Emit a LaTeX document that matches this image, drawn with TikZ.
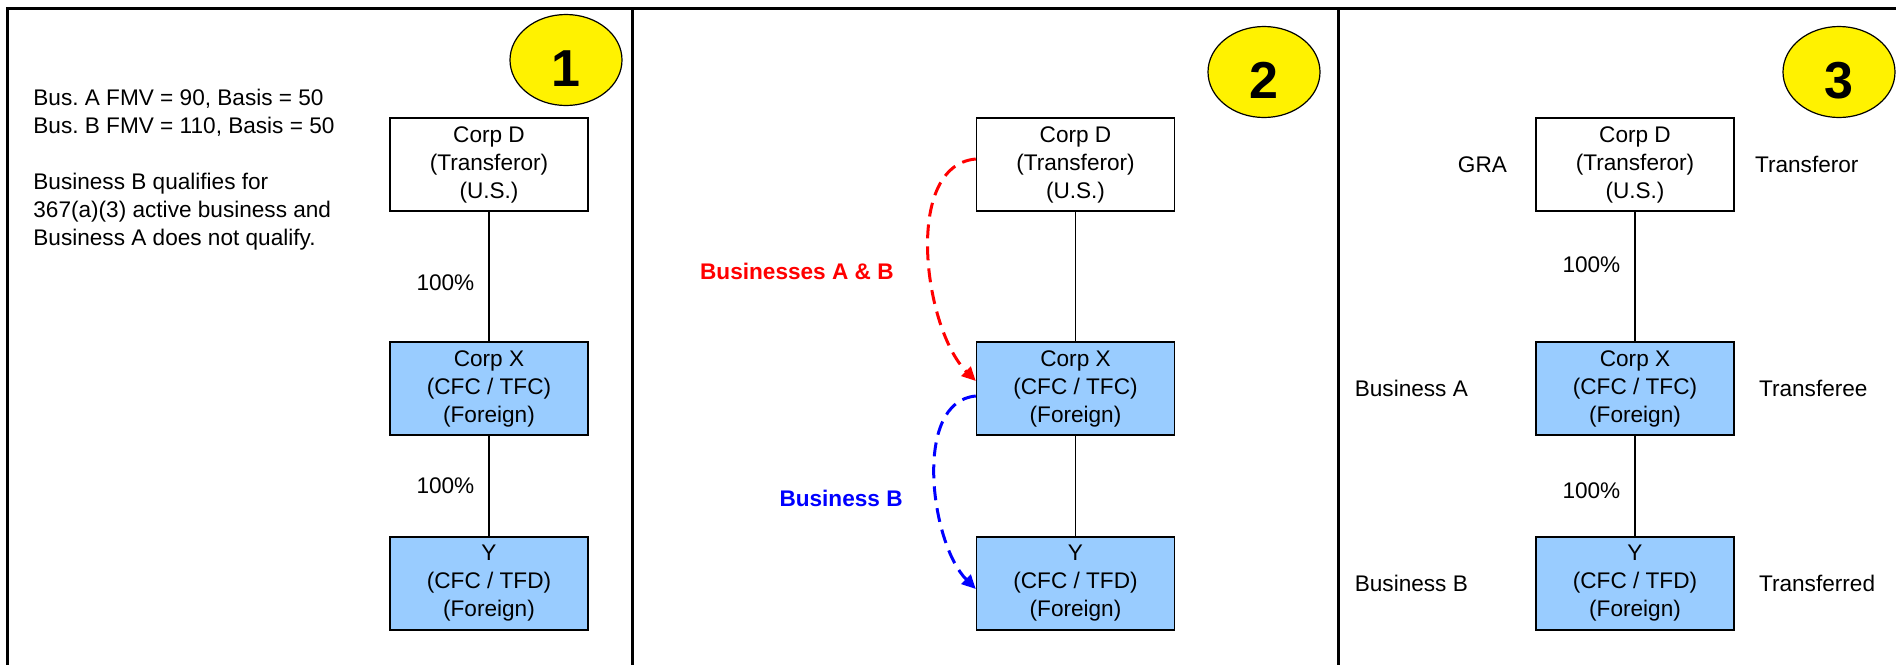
\documentclass[tikz,border=0pt]{standalone}
\usepackage{fontspec}
\setmainfont{Liberation Sans}
\usetikzlibrary{shapes.geometric}
\usetikzlibrary{arrows.meta}
\usetikzlibrary{positioning}

\definecolor{boxblue}{HTML}{99CCFF}
\newcommand\diagfont{\fontsize{11.3}{14}\selectfont}
\frenchspacing

\begin{document}
\begin{tikzpicture}[x=0.5pt,y=-0.5pt,font=\diagfont,
  entity/.style={draw, line width=0.7pt, minimum width=99pt, minimum height=46.5pt, align=center, inner sep=0pt},
  foreign/.style={entity, fill=boxblue},
  stepno/.style={ellipse, draw, line width=0.6pt, fill=yellow, minimum width=56pt, minimum height=45.5pt, inner sep=0pt,
    font=\fontsize{26}{30}\selectfont\bfseries, text height=26.6pt, text depth=0pt},
  own/.style={line width=0.7pt},
  pct/.style={left=7pt, inner sep=0pt},
  side/.style={inner sep=0pt},
  move/.style={line width=1.5pt, dash pattern=on 7pt off 4pt, arrows={-Triangle[length=7pt,width=6.5pt]}},
  movelbl/.style={anchor=east, inner sep=0pt, font=\diagfont\bfseries}]
  \useasboundingbox (0,0) rectangle (1896,665);
  \draw[line width=1.5pt] (1896,8) -- (7,8) -- (7,665);
  \draw[line width=1.5pt] (632,8) -- (632,665);
  \draw[line width=1.5pt] (1338,8) -- (1338,665);

  \node[stepno] (s1) at (566,60) {1};
  \node[stepno] (s2) at (1264,72) {2};
  \node[stepno] (s3) at (1839,72) {3};

  \node[anchor=north west, align=left, inner sep=0pt] (facts) at (33,89)
    {Bus. A FMV = 90, Basis = 50\\Bus. B FMV = 110, Basis = 50\\[14pt]Business B qualifies for\\367(a)(3) active business and\\Business A does not qualify.};

  \node[entity] (d1) at (489,164.5) {Corp D\\(Transferor)\\(U.S.)};
  \node[foreign] (x1) at (489,388.5) {Corp X\\(CFC / TFC)\\(Foreign)};
  \node[foreign] (y1) at (489,583.5) {Y\\(CFC / TFD)\\(Foreign)};
  \draw[own] (d1) -- node[pct, pos=0.55] {100\%} (x1);
  \draw[own] (x1) -- node[pct, pos=0.5] {100\%} (y1);

  \node[entity] (d2) at (1075.5,164.5) {Corp D\\(Transferor)\\(U.S.)};
  \node[foreign] (x2) at (1075.5,388.5) {Corp X\\(CFC / TFC)\\(Foreign)};
  \node[foreign] (y2) at (1075.5,583.5) {Y\\(CFC / TFD)\\(Foreign)};
  \draw[own] (d2) -- (x2);
  \draw[own] (x2) -- (y2);
  \draw[move, red] ([yshift=2.75pt]d2.west) to[out=185, in=135, looseness=0.85] ([yshift=3.75pt]x2.west);
  \draw[move, blue] ([yshift=-3.75pt]x2.west) to[out=185, in=135, looseness=0.85] ([yshift=-2.75pt]y2.west);
  \node[movelbl, red] (ab) at (894,271) {Businesses A \& B};
  \node[movelbl, blue] (b) at (903,498) {Business B};

  \node[entity] (d3) at (1635,164.5) {Corp D\\(Transferor)\\(U.S.)};
  \node[foreign] (x3) at (1635,388.5) {Corp X\\(CFC / TFC)\\(Foreign)};
  \node[foreign] (y3) at (1635,583.5) {Y\\(CFC / TFD)\\(Foreign)};
  \draw[own] (d3) -- node[pct, pos=0.41] {100\%} (x3);
  \draw[own] (x3) -- node[pct, pos=0.55] {100\%} (y3);
  \node[side, left=14pt of d3] (gra) {GRA};
  \node[side, left=33.5pt of x3] (busa) {Business A};
  \node[side, left=33.5pt of y3] (busb) {Business B};
  \node[side, right=10pt of d3] (tor) {Transferor};
  \node[side, right=12pt of x3] (tee) {Transferee};
  \node[side, right=12pt of y3] (ted) {Transferred};
\end{tikzpicture}
\end{document}
